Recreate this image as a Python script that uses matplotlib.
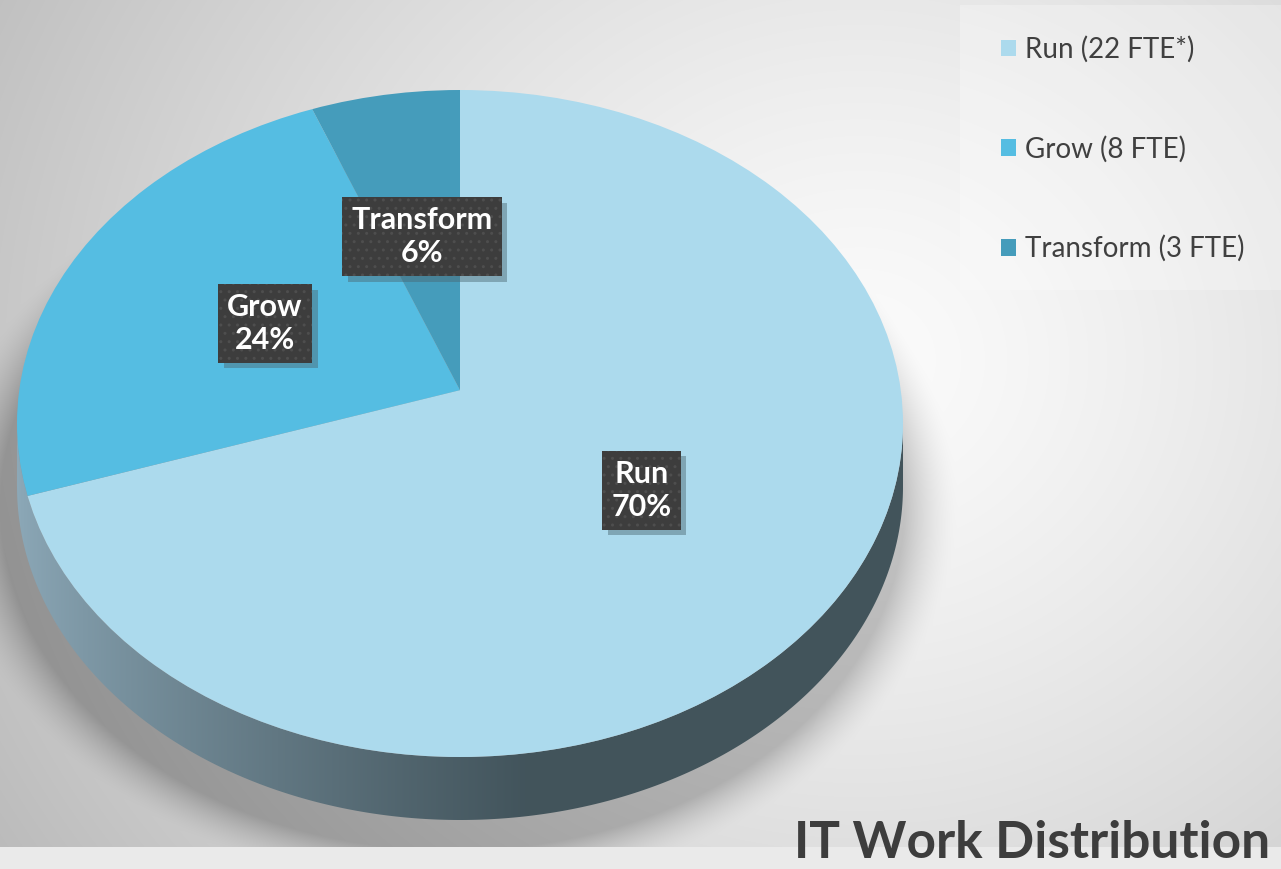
import numpy as np
import matplotlib
matplotlib.use("Agg")
import matplotlib.pyplot as plt
import matplotlib.patheffects as pe
from matplotlib.patches import Polygon, Patch, Rectangle, Circle

# data
categories = ["Run", "Grow", "Transform"]
shares = [70, 24, 6]
fte = ["22 FTE*", "8 FTE", "3 FTE"]
colors = ["#acdaed", "#55bde2", "#459cbb"]
title = "IT Work Distribution"

W, H = 1281, 869
fig = plt.figure(figsize=(W / 100, H / 100), dpi=100)

# background: soft grey gradient with a shadow under the pie
bg = fig.add_axes([0, 0, 1, 1])
bg.set_xlim(0, W)
bg.set_ylim(H, 0)
bg.axis("off")
yy, xx = np.mgrid[0:H, 0:W]
d = np.hypot(xx - 860, (yy - 360) * 1.1)
val = 0.985 - 0.19 * np.clip(d / 820, 0, 1.3) ** 1.3
# shadow below the pie base
r = np.hypot((xx - 452) / 452, (yy - 505) / 345)
sh = np.where(r > 1, np.clip(1 - (r - 1) / 0.12, 0, 1), 1) ** 1.6
val = val - 0.2 * sh
val[yy > 846] = np.maximum(val[yy > 846], 0.92)
bg.imshow(np.dstack([val] * 3), extent=(0, W, H, 0), aspect="auto", zorder=0)
bg.add_patch(Rectangle((960, 5), W - 960, 285, fc="white", ec="none", alpha=0.28, zorder=1))

# pie axes: x unit = 443 px, y unit = 333.5 px (flattened top face)
cx, cy, rx, ry = 460, 423.5, 443, 333.5
top_px, bot_px = 40, 860
ax = fig.add_axes([(cx - rx) / W, 1 - bot_px / H, 2 * rx / W, (bot_px - top_px) / H])
ax.patch.set_alpha(0)

depth = 63 / ry
t = np.linspace(np.pi, 2 * np.pi, 300)
side_xy = np.concatenate([np.c_[np.cos(t), np.sin(t)],
                          np.c_[np.cos(t[::-1]), np.sin(t[::-1]) - depth]])
side = Polygon(side_xy, closed=True, fc="none", ec="none")
ax.add_patch(side)
gx = np.linspace(-1, 1, 400)
g = np.clip((gx + 1) / 1.15, 0, 1) ** 0.8
c0 = np.array([0.55, 0.66, 0.72])
c1 = np.array([0.26, 0.33, 0.36])
grad = (c0[None, :] * (1 - g[:, None]) + c1[None, :] * g[:, None])[None, :, :]
im = ax.imshow(grad, extent=(-1, 1, -1 - depth - 0.02, 0.02), aspect="auto", zorder=1)
im.set_clip_path(side)

# perspective: apex sits a bit above the centre of the top face
face = Circle((0, 0), 1, fc="none", ec="none")
ax.add_patch(face)
wedges, _ = ax.pie(shares, colors=colors, startangle=90, counterclock=False,
                   radius=1.3, center=(0, 0.1), wedgeprops=dict(linewidth=0, zorder=2))
for w in wedges:
    w.set_clip_on(True)
    w.set_clip_path(face)
ax.set_aspect("auto")
ax.set_xlim(-1, 1)
ax.set_ylim(-1 - (bot_px - (cy + ry)) / ry, 1 + ((cy - ry) - top_px) / ry)
ax.axis("off")

# data labels
lab_pos = [(0.41, -0.2), (-0.44, 0.30), (-0.086, 0.56)]
for name, s, (lx, ly) in zip(categories, shares, lab_pos):
    tx = ax.text(lx, ly, f"{name}\n{s}%", ha="center", va="center", fontsize=22,
                 fontweight="bold", family="Lato", color="white", linespacing=1.2,
                 zorder=5,
                 bbox=dict(boxstyle="square,pad=0.3", fc="#3d3d3d", ec="#4e4e4e",
                           lw=0, hatch=".."))
    tx.get_bbox_patch().set_path_effects([
        pe.PathPatchEffect(offset=(4, -4), facecolor="#4a6670", edgecolor="none",
                           alpha=0.45),
        pe.Normal()])

# legend
handles = [Patch(fc=c, ec="none") for c in colors]
labels = [f"{n} ({f})" for n, f in zip(categories, fte)]
leg = fig.legend(handles, labels, loc="upper left", bbox_to_anchor=(1001 / W, 1 - 36 / H),
                 frameon=False, labelspacing=2.62, handlelength=0.55, handleheight=0.55,
                 handletextpad=0.3, borderpad=0, borderaxespad=0,
                 prop=dict(family="Lato", size=20))
for t_ in leg.get_texts():
    t_.set_color("#404040")

fig.text(1270 / W, 1 - 858 / H, title, ha="right", va="baseline", fontsize=37,
         fontweight="bold", family="Lato", color="#3d3d3d")

fig.savefig("out.png", dpi=100)
